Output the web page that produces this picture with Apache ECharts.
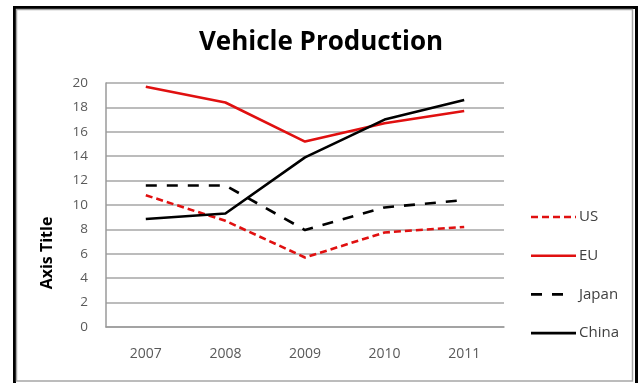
<!DOCTYPE html>
<html>
<head>
<meta charset="utf-8">
<style>
  html, body { margin: 0; padding: 0; background: #fff; }
  #chart { width: 642px; height: 383px; }
</style>
<script src="https://cdn.jsdelivr.net/npm/echarts@6/dist/echarts.min.js"></script>
</head>
<body>
<div id="chart"></div>
<script>
// Production by region, 2007–2011
const years = ['2007', '2008', '2009', '2010', '2011'];
const usValues = [10.8, 8.7, 5.7, 7.75, 8.2];
const euValues = [19.7, 18.4, 15.2, 16.7, 17.7];
const japanValues = [11.6, 11.6, 7.95, 9.8, 10.4];
const chinaValues = [8.85, 9.3, 13.9, 17.0, 18.6];

const FONT = '"Open Sans", "DejaVu Sans", sans-serif';
const RED = '#e01010';
const BLACK = '#000000';

const seriesDefs = [
  { name: 'US', data: usValues, color: RED, dash: [7, 4], sample: 45 },
  { name: 'EU', data: euValues, color: RED, dash: 'solid', sample: 45 },
  { name: 'Japan', data: japanValues, color: BLACK, dash: [11, 10], sample: 32 },
  { name: 'China', data: chinaValues, color: BLACK, dash: 'solid', sample: 45 }
];

const chart = echarts.init(document.getElementById('chart'), null, { renderer: 'canvas' });

// Legend drawn as line samples with labels, stacked on the right
const legendLeft = 531, legendTop = 217, legendStep = 38.7, textLeft = 579;
const legendGraphics = [];
seriesDefs.forEach(function (s, i) {
  const y = legendTop + i * legendStep;
  legendGraphics.push({
    type: 'line',
    shape: { x1: legendLeft, y1: y, x2: legendLeft + s.sample, y2: y },
    style: { stroke: s.color, lineWidth: 2.6, lineDash: s.dash === 'solid' ? null : s.dash },
    silent: true
  });
  legendGraphics.push({
    type: 'text',
    x: textLeft,
    y: y,
    style: { text: s.name, font: '15px ' + FONT, fill: '#404040', verticalAlign: 'middle', align: 'left' },
    silent: true
  });
});

chart.setOption({
  animation: false,
  backgroundColor: '#ffffff',
  title: {
    text: 'Vehicle Production',
    left: 'center',
    top: 25,
    textStyle: { fontFamily: FONT, fontWeight: 'bold', fontSize: 26, color: '#000' }
  },
  graphic: [
    // outer black frame
    { type: 'rect', shape: { x: 14.5, y: 7.5, width: 622, height: 390 },
      style: { fill: null, stroke: '#000', lineWidth: 3 }, silent: true },
    // inner grey frame
    { type: 'rect', shape: { x: 16.5, y: 9.5, width: 616, height: 371.5 },
      style: { fill: null, stroke: '#a6a6a6', lineWidth: 1.5 }, silent: true }
  ].concat(legendGraphics),
  grid: { left: 106, right: 138, top: 83, bottom: 56 },
  xAxis: {
    type: 'category',
    data: years,
    boundaryGap: true,
    axisLine: { show: true, lineStyle: { color: '#9a9a9a', width: 1.5 } },
    axisTick: { show: false },
    axisLabel: { margin: 20, fontFamily: FONT, fontSize: 14, color: '#595959' }
  },
  yAxis: {
    type: 'value',
    min: 0,
    max: 20,
    interval: 2,
    name: 'Axis Title',
    nameLocation: 'middle',
    nameRotate: 90,
    nameGap: 51,
    nameTextStyle: { fontFamily: FONT, fontWeight: 'bold', fontSize: 16, color: '#000', padding: [0, 0, 0, -96] },
    axisLine: { show: true, lineStyle: { color: '#9a9a9a', width: 1.5 } },
    axisTick: { show: false },
    axisLabel: { margin: 18, fontFamily: FONT, fontSize: 13.5, color: '#595959' },
    splitLine: { show: true, lineStyle: { color: '#a6a6a6', width: 1.5 } }
  },
  series: seriesDefs.map(function (s) {
    return {
      name: s.name,
      type: 'line',
      data: s.data,
      symbol: 'none',
      showSymbol: false,
      lineStyle: { color: s.color, width: 2.6, type: s.dash },
      itemStyle: { color: s.color },
      z: 3
    };
  })
});
</script>
</body>
</html>
